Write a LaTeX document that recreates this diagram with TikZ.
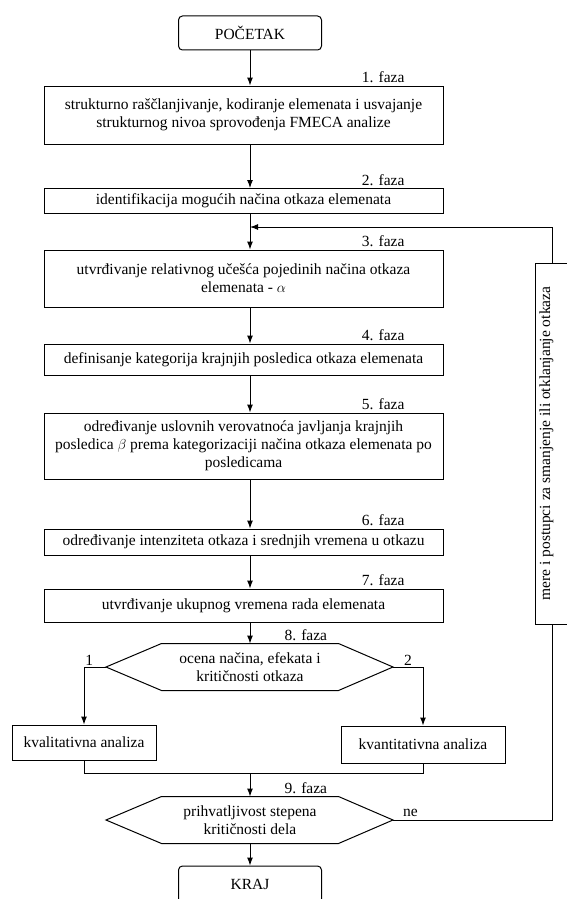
\documentclass[tikz,border=0pt]{standalone}
\usepackage{fontspec}
\setmainfont{Liberation Serif}
\usetikzlibrary{arrows.meta}

\tikzset{
  faza/.style={draw, rectangle, minimum width=399pt, align=center, inner sep=2pt},
  krajnji/.style={draw, rectangle, rounded corners=4pt, minimum width=143pt, minimum height=34pt},
  grana/.style={draw, rectangle, align=center},
  oznaka/.style={anchor=south east, inner sep=1pt, yshift=1pt},
}

\begin{document}
\begin{tikzpicture}[x=1pt, y=-1pt, line width=1pt, >={Latex[length=8pt,width=6pt]},
  font=\fontsize{15.5pt}{18pt}\selectfont]
\useasboundingbox (0,0) rectangle (566,899);

% Pocetak
\node[krajnji] (start) at (250,33) {POČETAK};

% Faze 1 - 7
\node[faza, minimum height=58pt] (f1) at (243.5,115) {strukturno raščlanjivanje, kodiranje elemenata i usvajanje\\ strukturnog nivoa sprovođenja FMECA analize};
\node[faza, minimum height=25pt] (f2) at (243.5,201) {identifikacija mogućih načina otkaza elemenata};
\node[faza, minimum height=57pt] (f3) at (243.5,278.5) {utvrđivanje relativnog učešća pojedinih načina otkaza\\ elemenata - $\alpha$};
\node[faza, minimum height=31pt] (f4) at (243.5,359.5) {definisanje kategorija krajnjih posledica otkaza elemenata};
\node[faza, minimum height=66pt] (f5) at (243.5,446) {određivanje uslovnih verovatnoća javljanja krajnjih\\ posledica $\beta$ prema kategorizaciji načina otkaza elemenata po\\ posledicama};
\node[faza, minimum height=26pt] (f6) at (243.5,542) {određivanje intenziteta otkaza i srednjih vremena u otkazu};
\node[faza, minimum height=33pt] (f7) at (243.5,605.5) {utvrđivanje ukupnog vremena rada elemenata};

% Oznake faza
\coordinate (desno) at (406,0);
\node[oznaka] at (f1.north -| desno) {1. faza};
\node[oznaka] at (f2.north -| desno) {2. faza};
\node[oznaka] at (f3.north -| desno) {3. faza};
\node[oznaka] at (f4.north -| desno) {4. faza};
\node[oznaka] at (f5.north -| desno) {5. faza};
\node[oznaka] at (f6.north -| desno) {6. faza};
\node[oznaka] at (f7.north -| desno) {7. faza};

% 8. faza
\node[minimum width=176pt, minimum height=46pt, align=center] (h8) at (250,667) {ocena načina, efekata i\\ kritičnosti otkaza};
\coordinate (h8w) at (106,667);
\coordinate (h8e) at (393,667);
\draw (h8.north west) -- (h8.north east) -- (h8e) -- (h8.south east) -- (h8.south west) -- (h8w) -- cycle;
\node[oznaka, anchor=south west] at ([xshift=33pt]h8.north) {8. faza};

% Analize
\node[grana, minimum width=144pt, minimum height=35pt] (kval) at (84,742.5) {kvalitativna analiza};
\node[grana, minimum width=164pt, minimum height=37pt] (kvant) at (423,744.5) {kvantitativna analiza};
\coordinate (spoj) at (250,773);

% 9. faza
\node[minimum width=176pt, minimum height=46pt, align=center] (h9) at (250,820) {prihvatljivost stepena\\ kritičnosti dela};
\coordinate (h9w) at (106,820);
\coordinate (h9e) at (393,820);
\draw (h9.north west) -- (h9.north east) -- (h9e) -- (h9.south east) -- (h9.south west) -- (h9w) -- cycle;
\node[oznaka, anchor=south west] at ([xshift=33pt]h9.north) {9. faza};

% Kraj
\node[krajnji, minimum height=37pt] (kraj) at (250,884.5) {KRAJ};

% Mere (povratna veza)
\node[draw, rotate=90, minimum width=361pt, minimum height=34pt, text height=11pt, text depth=15pt, inner sep=4pt] (mere) at (552,443.5) {mere i postupci za smanjenje ili otklanjanje otkaza};
\coordinate (povratak) at (250,227);

% Strelice
\draw[->] (start) -- (start |- f1.north);
\draw[->] (f1.south -| start) -- (f2.north -| start);
\draw[->] (f2.south -| start) -- (f3.north -| start);
\draw[->] (f3.south -| start) -- (f4.north -| start);
\draw[->] (f4.south -| start) -- (f5.north -| start);
\draw[->] (f5.south -| start) -- (f6.north -| start);
\draw[->] (f6.south -| start) -- (f7.north -| start);
\draw[->] (f7.south -| start) -- (h8.north);
\draw[->] (h8w) -| node[pos=0.38, above, inner sep=1pt] {1} (kval.north);
\draw[->] (h8e) -| node[pos=0.25, above, inner sep=1pt] {2} (kvant.north);
\draw (kval.south) |- (spoj) -| (kvant.south);
\draw[->] (spoj) -- (h9.north);
\draw[->] (h9.south) -- (kraj.north);
\draw (h9e) -| node[pos=0.055, above, inner sep=3pt] {ne} (mere.west);
\draw[->] (mere.east) |- (povratak);
\end{tikzpicture}
\end{document}
